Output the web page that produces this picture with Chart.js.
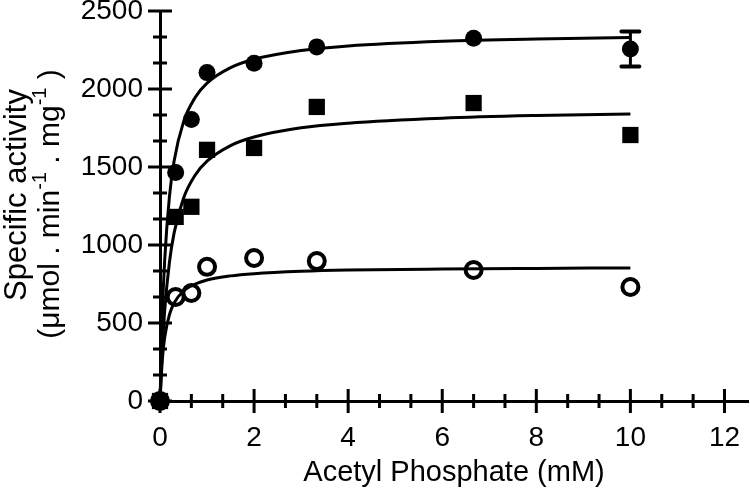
<!DOCTYPE html>
<html>
<head>
<meta charset="utf-8">
<script src="https://cdn.jsdelivr.net/npm/chart.js@4"></script>
<style>
  body { margin: 0; background: #fff; }
</style>
</head>
<body>
<canvas id="kineticsChart" width="750" height="490"></canvas>
<script>
// substrate concentrations (mM)
const concentrations = [0, 0.333, 0.667, 1, 2, 3.333, 6.667, 10];
// measured specific activities
const filledCircles = [0, 1465, 1805, 2105, 2165, 2270, 2325, 2256];
const filledCirclesErr = [0, 0, 0, 0, 0, 0, 0, 112];
const filledSquares = [0, 1180, 1245, 1610, 1622, 1885, 1910, 1705];
const openCircles = [0, 667, 692, 860, 917, 897, 840, 731];

// fitted curves
const fitConc = [0, 0.05, 0.1, 0.2, 0.3, 0.5, 0.75, 1, 1.5, 2, 3, 4, 6, 8, 10];
const fitCircles = [0, 558, 904, 1308, 1538, 1789, 1947, 2038, 2137, 2191, 2247, 2276, 2306, 2321, 2330];
const fitSquares = [0, 344, 581, 888, 1078, 1300, 1449, 1537, 1637, 1692, 1751, 1781, 1813, 1830, 1840];
const fitOpen = [0, 267, 408, 553, 628, 705, 750, 776, 802, 816, 831, 839, 846, 850, 853];

// axis tick labels
const xMajorTicks = [0, 2, 4, 6, 8, 10, 12];
const yMajorTicks = [0, 500, 1000, 1500, 2000, 2500];
const minorPerMajor = 3;

const FONT = "'Liberation Sans', Arial, sans-serif";

function toPoints(xs, ys) {
  return xs.map((x, i) => ({ x: x, y: ys[i] }));
}

function buildTicks(majors) {
  const ticks = [];
  majors.forEach((m, i) => {
    ticks.push({ value: m, major: true });
    if (i < majors.length - 1) {
      const step = (majors[i + 1] - m) / minorPerMajor;
      for (let k = 1; k < minorPerMajor; k++) {
        ticks.push({ value: m + k * step, major: false });
      }
    }
  });
  return ticks;
}

// no extra room for overhanging labels, the layout padding handles it
function noScalePadding(s) {
  s.paddingTop = 0;
  s.paddingBottom = 0;
  s.paddingLeft = 0;
  s.paddingRight = 0;
}

// ticks that cross the axis line
const crossTicks = {
  id: "crossTicks",
  beforeDatasetsDraw(chart) {
    const { ctx, scales: { x, y } } = chart;
    ctx.save();
    ctx.strokeStyle = "#000";
    ctx.lineWidth = 3;
    x.ticks.forEach(t => {
      const px = x.getPixelForValue(t.value);
      const half = t.major ? 12 : 7;
      ctx.beginPath();
      ctx.moveTo(px, y.bottom - half);
      ctx.lineTo(px, y.bottom + half);
      ctx.stroke();
    });
    y.ticks.forEach(t => {
      const py = y.getPixelForValue(t.value);
      const half = t.major ? 12 : 7;
      ctx.beginPath();
      ctx.moveTo(x.left - half, py);
      ctx.lineTo(x.left + half, py);
      ctx.stroke();
    });
    ctx.restore();
  }
};

const errorBars = {
  id: "errorBars",
  afterDatasetsDraw(chart) {
    const { ctx, scales: { x, y } } = chart;
    ctx.save();
    ctx.strokeStyle = "#000";
    ctx.lineCap = "round";
    concentrations.forEach((c, i) => {
      const e = filledCirclesErr[i];
      if (!e) return;
      const px = x.getPixelForValue(c);
      const top = y.getPixelForValue(filledCircles[i] + e);
      const bot = y.getPixelForValue(filledCircles[i] - e);
      ctx.lineWidth = 3;
      ctx.beginPath();
      ctx.moveTo(px, top);
      ctx.lineTo(px, bot);
      ctx.stroke();
      ctx.lineWidth = 4;
      ctx.beginPath();
      ctx.moveTo(px - 9, top);
      ctx.lineTo(px + 9, top);
      ctx.moveTo(px - 9, bot);
      ctx.lineTo(px + 9, bot);
      ctx.stroke();
    });
    ctx.restore();
  }
};

// two-line y title with superscripts
const yTitle = {
  id: "yTitle",
  afterDraw(chart) {
    const { ctx } = chart;
    const cy = (chart.chartArea.top + chart.chartArea.bottom) / 2;
    ctx.save();
    ctx.fillStyle = "#000";
    ctx.textBaseline = "middle";

    ctx.save();
    ctx.translate(17, cy - 11);
    ctx.rotate(-Math.PI / 2);
    ctx.font = "31px " + FONT;
    ctx.textAlign = "center";
    ctx.fillText("Specific activity", 0, 0);
    ctx.restore();

    const parts = [
      { t: "(\u03bcmol . min", sup: false },
      { t: "-1", sup: true },
      { t: " . mg", sup: false },
      { t: "-1", sup: true },
      { t: " )", sup: false }
    ];
    const bigFont = "30px " + FONT;
    const smallFont = "20px " + FONT;
    let total = 0;
    parts.forEach(p => {
      ctx.font = p.sup ? smallFont : bigFont;
      p.w = ctx.measureText(p.t).width;
      total += p.w;
    });
    ctx.translate(51, cy - 2);
    ctx.rotate(-Math.PI / 2);
    ctx.textAlign = "left";
    let pos = -total / 2;
    parts.forEach(p => {
      ctx.font = p.sup ? smallFont : bigFont;
      ctx.fillText(p.t, pos, p.sup ? -11 : 0);
      pos += p.w;
    });
    ctx.restore();
  }
};

const ctx = document.getElementById("kineticsChart").getContext("2d");

new Chart(ctx, {
  type: "scatter",
  data: {
    datasets: [
      {
        data: toPoints(concentrations, filledCircles),
        pointStyle: "circle",
        pointRadius: 8.5,
        pointBackgroundColor: "#000",
        pointBorderWidth: 0,
        clip: false
      },
      {
        data: toPoints(concentrations, filledSquares),
        pointStyle: "rect",
        pointRadius: 11.5,
        pointBackgroundColor: "#000",
        pointBorderWidth: 0,
        clip: false
      },
      {
        data: toPoints(concentrations, openCircles),
        pointStyle: "circle",
        pointRadius: 8,
        pointBackgroundColor: "rgba(0,0,0,0)",
        pointBorderColor: "#000",
        pointBorderWidth: 4,
        clip: false
      },
      {
        data: toPoints(fitConc, fitCircles),
        showLine: true,
        pointRadius: 0,
        borderColor: "#000",
        borderWidth: 3,
        cubicInterpolationMode: "monotone",
        clip: false
      },
      {
        data: toPoints(fitConc, fitSquares),
        showLine: true,
        pointRadius: 0,
        borderColor: "#000",
        borderWidth: 3,
        cubicInterpolationMode: "monotone",
        clip: false
      },
      {
        data: toPoints(fitConc, fitOpen),
        showLine: true,
        pointRadius: 0,
        borderColor: "#000",
        borderWidth: 3,
        cubicInterpolationMode: "monotone",
        clip: false
      }
    ]
  },
  options: {
    responsive: false,
    animation: false,
    layout: { autoPadding: false, padding: { top: 11, right: 2, left: 0, bottom: 0 } },
    plugins: {
      legend: { display: false },
      tooltip: { enabled: false }
    },
    scales: {
      x: {
        type: "linear",
        min: 0,
        max: 12.5,
        afterBuildTicks: s => { s.ticks = buildTicks(xMajorTicks); },
        afterFit: s => { s.height = 89; noScalePadding(s); },
        grid: { display: false, drawTicks: false, tickLength: 0 },
        border: { display: true, color: "#000", width: 3 },
        ticks: {
          autoSkip: false,
          maxRotation: 0,
          padding: 20,
          color: "#000",
          font: { family: FONT, size: 28 },
          callback: (v, i, ticks) => ticks[i].major ? String(v) : ""
        },
        title: {
          display: true,
          text: "Acetyl Phosphate (mM)",
          color: "#000",
          font: { family: FONT, size: 29 },
          padding: { top: 0, bottom: 0 }
        }
      },
      y: {
        type: "linear",
        min: 0,
        max: 2500,
        afterBuildTicks: s => { s.ticks = buildTicks(yMajorTicks); },
        afterFit: s => { s.width = 160; noScalePadding(s); },
        grid: { display: false, drawTicks: false, tickLength: 0 },
        border: { display: true, color: "#000", width: 3 },
        ticks: {
          autoSkip: false,
          padding: 17,
          color: "#000",
          font: { family: FONT, size: 28 },
          callback: (v, i, ticks) => ticks[i].major ? String(v) : ""
        }
      }
    }
  },
  plugins: [crossTicks, errorBars, yTitle]
});
</script>
</body>
</html>
